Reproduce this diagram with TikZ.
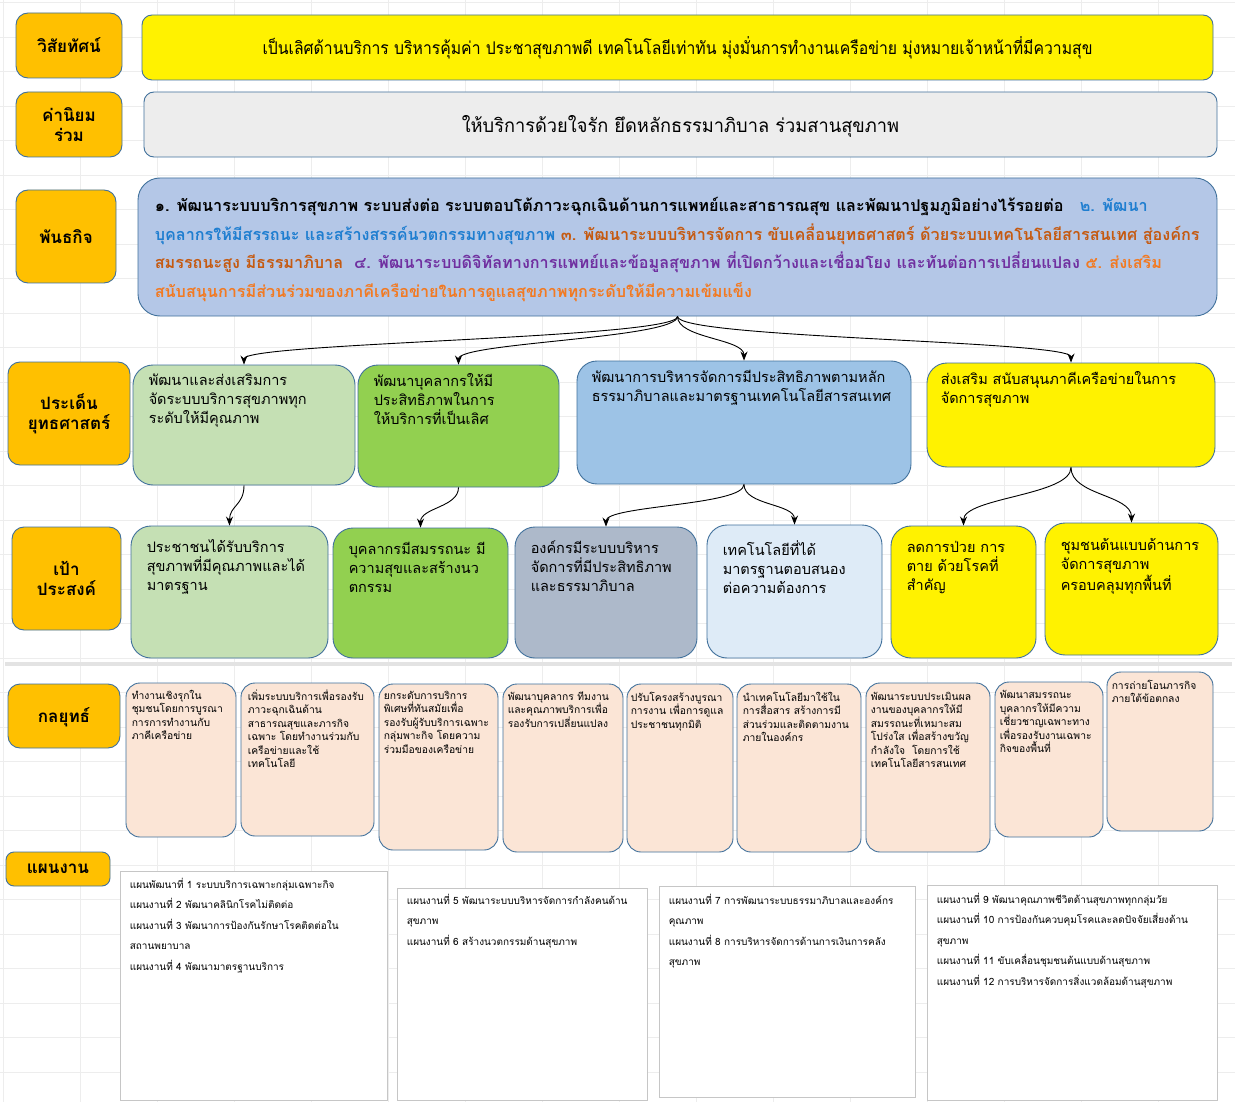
\documentclass[tikz,border=0pt]{standalone}
\usepackage{fontspec}
\setmainfont[Script=Thai]{Loma}
\usetikzlibrary{arrows.meta,fit}

\definecolor{labelorange}{HTML}{FFC000}
\definecolor{edgeblue}{HTML}{41719C}
\definecolor{valgrey}{HTML}{EDEDED}
\definecolor{misblue}{HTML}{B4C7E7}
\definecolor{lgreen}{HTML}{C5E0B4}
\definecolor{dgreen}{HTML}{92D050}
\definecolor{issblue}{HTML}{9DC3E6}
\definecolor{goalgrey}{HTML}{ADB9CA}
\definecolor{paleblue}{HTML}{DEEBF7}
\definecolor{peach}{HTML}{FBE5D6}
\definecolor{mtwo}{HTML}{1F7ED0}
\definecolor{mthree}{HTML}{C55A11}
\definecolor{mfour}{HTML}{7030A0}
\definecolor{mfive}{HTML}{F27A22}

\tikzset{
  box/.style={draw=edgeblue, line width=0.9pt, inner sep=0pt},
  rowlabel/.style={box, fill=labelorange, rounded corners=12pt},
  labtxt/.style={align=center, inner sep=0pt, font=\bfseries\fontsize{17}{20}\selectfont},
  issuebox/.style={box, rounded corners=20pt},
  goalbox/.style={box, rounded corners=20pt},
  stratbox/.style={box, fill=peach, rounded corners=14pt},
  planbox/.style={draw=gray!45, fill=white, line width=0.8pt, inner sep=0pt},
  txt/.style={anchor=north west, align=left, inner sep=0pt},
  conn/.style={-{Stealth[length=9pt,width=7pt]}, line width=0.9pt},
  gridline/.style={gray!14, line width=0.6pt},
}

\begin{document}
\begin{tikzpicture}[x=1pt, y=-1pt]
\useasboundingbox (0,0) rectangle (1235,1102);
\fill[white] (0,0) rectangle (1235,1102);
% sheet grid
\foreach \gx in {3,80,...,1235} \draw[gridline] (\gx,0) -- (\gx,1102);
\foreach \gy in {2.5,37,...,1102} \draw[gridline] (0,\gy) -- (1235,\gy);
\draw[gray!22, line width=4pt] (5,664) -- (1232,664);

% row labels
\node[rowlabel, fit={(16,13) (122,78)}] (lvis) {};
\node[rowlabel, fit={(16,92) (122,157)}] (lval) {};
\node[rowlabel, fit={(16,190) (116,283)}] (lmis) {};
\node[rowlabel, fit={(8,362) (130,465)}] (liss) {};
\node[rowlabel, fit={(12,527) (121,630)}] (lgoal) {};
\node[rowlabel, fit={(8,684) (120,748)}] (lstrat) {};
\node[rowlabel, rounded corners=8pt, fit={(6,852) (110,886)}] (lplan) {};
\node[labtxt] at (lvis.center) {วิสัยทัศน์};
\node[labtxt] at (lval.center) {ค่านิยม\\ร่วม};
\node[labtxt] at (lmis.center) {พันธกิจ};
\node[labtxt] at (liss.center) {ประเด็น\\ยุทธศาสตร์};
\node[labtxt] at (lgoal.center) {เป้า\\ประสงค์};
\node[labtxt] at ([shift={(0,1)}]lstrat.center) {กลยุทธ์};
\node[labtxt] at (lplan.center) {แผนงาน};

% vision, values, mission
\node[box, fill=yellow, rounded corners=10pt, fit={(142,15) (1213,80)}] (vis) {};
\node[box, fill=valgrey, rounded corners=10pt, fit={(144,92) (1217,157)}] (val) {};
\node[inner sep=0pt, font=\fontsize{17.5}{20}\selectfont] at (vis.center)
  {\scalebox{0.9}[1]{เป็นเลิศด้านบริการ บริหารคุ้มค่า ประชาสุขภาพดี เทคโนโลยีเท่าทัน มุ่งมั่นการทำงานเครือข่าย มุ่งหมายเจ้าหน้าที่มีความสุข}};
\node[inner sep=0pt, font=\fontsize{19}{22}\selectfont] at ([shift={(0,2)}]val.center)
  {\scalebox{0.96}[1]{ให้บริการด้วยใจรัก ยึดหลักธรรมาภิบาล ร่วมสานสุขภาพ}};
\node[box, fill=misblue, rounded corners=22pt, fit={(138,178) (1217,316)}] (mis) {};
\node[txt, font=\bfseries\fontsize{16.2}{28.5}\selectfont] (mistxt) at ([shift={(17,20)}]mis.north west)
  {๑. พัฒนาระบบบริการสุขภาพ ระบบส่งต่อ ระบบตอบโต้ภาวะฉุกเฉินด้านการแพทย์และสาธารณสุข และพัฒนาปฐมภูมิอย่างไร้รอยต่อ\quad {\color{mtwo}๒. พัฒนา}\\
  {\color{mtwo}บุคลากรให้มีสรรถนะ และสร้างสรรค์นวตกรรมทางสุขภาพ} {\color{mthree}๓. พัฒนาระบบบริหารจัดการ ขับเคลื่อนยุทธศาสตร์ ด้วยระบบเทคโนโลยีสารสนเทศ สู่องค์กร}\\
  {\color{mthree}สมรรถนะสูง มีธรรมาภิบาล}\ \ {\color{mfour}๔. พัฒนาระบบดิจิทัลทางการแพทย์และข้อมูลสุขภาพ ที่เปิดกว้างและเชื่อมโยง และทันต่อการเปลี่ยนแปลง} {\color{mfive}๕. ส่งเสริม}\\
  {\color{mfive}สนับสนุนการมีส่วนร่วมของภาคีเครือข่ายในการดูแลสุขภาพทุกระดับให้มีความเข้มแข็ง}};

% strategic issues
\node[issuebox, fill=lgreen, fit={(133,365) (355,485)}] (s1) {};
\node[issuebox, fill=dgreen, fit={(358,365) (559,487)}] (s2) {};
\node[issuebox, fill=issblue, fit={(577,361) (911,484)}] (s3) {};
\node[issuebox, fill=yellow, fit={(927,363) (1215,467)}] (s4) {};
\begin{scope}[every node/.style={txt, font=\fontsize{14.5}{19}\selectfont}]
  \node at ([shift={(16,9)}]s1.north west) {พัฒนาและส่งเสริมการ\\จัดระบบบริการสุขภาพทุก\\ระดับให้มีคุณภาพ};
  \node at ([shift={(16,9)}]s2.north west) {พัฒนาบุคลากรให้มี\\ประสิทธิภาพในการ\\ให้บริการที่เป็นเลิศ};
  \node at ([shift={(15,9)}]s3.north west) {พัฒนาการบริหารจัดการมีประสิทธิภาพตามหลัก\\ธรรมาภิบาลและมาตรฐานเทคโนโลยีสารสนเทศ};
  \node at ([shift={(14,9)}]s4.north west) {ส่งเสริม สนับสนุนภาคีเครือข่ายในการ\\จัดการสุขภาพ};
\end{scope}

% goals
\node[goalbox, fill=lgreen, fit={(131,526) (328,658)}] (g1) {};
\node[goalbox, fill=dgreen, fit={(333,528) (508,658)}] (g2) {};
\node[goalbox, fill=goalgrey, fit={(515,527) (697,658)}] (g3) {};
\node[goalbox, fill=paleblue, fit={(707,525) (882,658)}] (g4) {};
\node[goalbox, fill=yellow, fit={(891,526) (1036,658)}] (g5) {};
\node[goalbox, fill=yellow, fit={(1045,523) (1218,655)}] (g6) {};
\begin{scope}[every node/.style={txt, font=\fontsize{14.5}{19}\selectfont}]
  \node at ([shift={(16,14)}]g1.north west) {ประชาชนได้รับบริการ\\สุขภาพที่มีคุณภาพและได้\\มาตรฐาน};
  \node at ([shift={(16,14)}]g2.north west) {บุคลากรมีสมรรถนะ มี\\ความสุขและสร้างนว\\ตกรรม};
  \node at ([shift={(16,14)}]g3.north west) {องค์กรมีระบบบริหาร\\จัดการที่มีประสิทธิภาพ\\และธรรมาภิบาล};
  \node at ([shift={(16,16)}]g4.north west) {เทคโนโลยีที่ได้\\มาตรฐานตอบสนอง\\ต่อความต้องการ};
  \node at ([shift={(16,16)}]g5.north west) {ลดการป่วย การ\\ตาย ด้วยโรคที่\\สำคัญ};
  \node at ([shift={(16,16)}]g6.north west) {ชุมชนต้นแบบด้านการ\\จัดการสุขภาพ\\ครอบคลุมทุกพื้นที่};
\end{scope}

% connectors
\foreach \t in {s1,s2,s3,s4}
  \draw[conn] (mis.south) .. controls +(0,22) and +(0,-22) .. (\t.north);
\draw[conn] (s1.south) .. controls +(0,20) and +(0,-20) .. (g1.north);
\draw[conn] (s2.south) .. controls +(0,20) and +(0,-20) .. (g2.north);
\draw[conn] (s3.south) .. controls +(0,21) and +(0,-21) .. (g3.north);
\draw[conn] (s3.south) .. controls +(0,21) and +(0,-21) .. (g4.north);
\draw[conn] (s4.south) .. controls +(0,28) and +(0,-28) .. (g5.north);
\draw[conn] (s4.south) .. controls +(0,28) and +(0,-28) .. (g6.north);

% strategies
\node[stratbox, fit={(126,683) (236,837)}] (k1) {};
\node[stratbox, fit={(241,683) (374,836)}] (k2) {};
\node[stratbox, fit={(379,684) (498,850)}] (k3) {};
\node[stratbox, fit={(503,684) (623,852)}] (k4) {};
\node[stratbox, fit={(627,684) (733,852)}] (k5) {};
\node[stratbox, fit={(737,684) (861,852)}] (k6) {};
\node[stratbox, fit={(866,683) (990,852)}] (k7) {};
\node[stratbox, fit={(995,682) (1103,837)}] (k8) {};
\node[stratbox, fit={(1107,672) (1213,831)}] (k9) {};
\begin{scope}[every node/.style={txt, font=\fontsize{10.3}{13.5}\selectfont}]
  \node at ([shift={(6,7)}]k1.north west) {ทำงานเชิงรุกใน\\ชุมชนโดยการบูรณา\\การการทำงานกับ\\ภาคีเครือข่าย};
  \node at ([shift={(7,7)}]k2.north west) {เพิ่มระบบบริการเพื่อรองรับ\\ภาวะฉุกเฉินด้าน\\สาธารณสุขและภารกิจ\\เฉพาะ โดยทำงานร่วมกับ\\เครือข่ายและใช้\\เทคโนโลยี};
  \node at ([shift={(5,7)}]k3.north west) {ยกระดับการบริการ\\พิเศษที่ทันสมัยเพื่อ\\รองรับผู้รับบริการเฉพาะ\\กลุ่มพาะกิจ โดยความ\\ร่วมมือของเครือข่าย};
  \node at ([shift={(5,8)}]k4.north west) {พัฒนาบุคลากร ทีมงาน\\และคุณภาพบริการเพื่อ\\รองรับการเปลี่ยนแปลง};
  \node at ([shift={(4,8)}]k5.north west) {ปรับโครงสร้างบูรณา\\การงาน เพื่อการดูแล\\ประชาชนทุกมิติ};
  \node at ([shift={(6,8)}]k6.north west) {นำเทคโนโลยีมาใช้ใน\\การสื่อสาร สร้างการมี\\ส่วนร่วมและติดตามงาน\\ภายในองค์กร};
  \node at ([shift={(5,9)}]k7.north west) {พัฒนาระบบประเมินผล\\งานของบุคลากรให้มี\\สมรรถนะที่เหมาะสม\\โปร่งใส เพื่อสร้างขวัญ\\กำลังใจ\ \ โดยการใช้\\เทคโนโลยีสารสนเทศ};
  \node at ([shift={(5,9)}]k8.north west) {พัฒนาสมรรถนะ\\บุคลากรให้มีความ\\เชี่ยวชาญเฉพาะทาง\\เพื่อรองรับงานเฉพาะ\\กิจของพื้นที่};
  \node at ([shift={(5,8)}]k9.north west) {การถ่ายโอนภารกิจ\\ภายใต้ข้อตกลง};
\end{scope}

% plans
\node[planbox, fit={(120,871) (387,1100)}] (p1) {};
\node[planbox, fit={(397,888) (647,1100)}] (p2) {};
\node[planbox, fit={(659,886) (915,1097)}] (p3) {};
\node[planbox, fit={(927,885) (1217,1100)}] (p4) {};
\begin{scope}[every node/.style={txt, font=\fontsize{10}{20.5}\selectfont}]
  \node at ([shift={(10,7)}]p1.north west) {แผนพัฒนาที่ 1 ระบบบริการเฉพาะกลุ่มเฉพาะกิจ\\แผนงานที่ 2 พัฒนาคลินิกโรคไม่ติดต่อ\\แผนงานที่ 3 พัฒนาการป้องกันรักษาโรคติดต่อใน\\สถานพยาบาล\\แผนงานที่ 4 พัฒนามาตรฐานบริการ};
  \node at ([shift={(10,6)}]p2.north west) {แผนงานที่ 5 พัฒนาระบบบริหารจัดการกำลังคนด้าน\\สุขภาพ\\แผนงานที่ 6 สร้างนวตกรรมด้านสุขภาพ};
  \node at ([shift={(10,8)}]p3.north west) {แผนงานที่ 7 การพัฒนาระบบธรรมาภิบาลและองค์กร\\คุณภาพ\\แผนงานที่ 8 การบริหารจัดการด้านการเงินการคลัง\\สุขภาพ};
  \node at ([shift={(10,8)}]p4.north west) {แผนงานที่ 9 พัฒนาคุณภาพชีวิตด้านสุขภาพทุกกลุ่มวัย\\แผนงานที่ 10 การป้องกันควบคุมโรคและลดปัจจัยเสี่ยงด้าน\\สุขภาพ\\แผนงานที่ 11 ขับเคลื่อนชุมชนต้นแบบด้านสุขภาพ\\แผนงานที่ 12 การบริหารจัดการสิ่งแวดล้อมด้านสุขภาพ};
\end{scope}
\end{tikzpicture}
\end{document}
